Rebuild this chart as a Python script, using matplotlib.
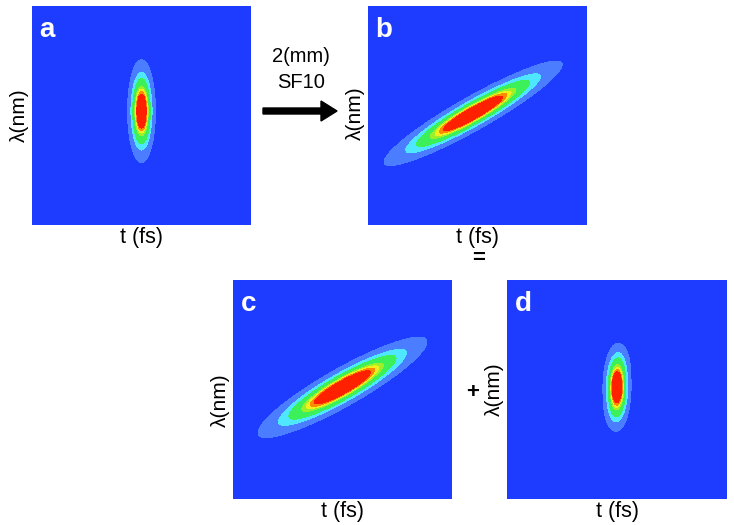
import numpy as np
import matplotlib
matplotlib.use('Agg')
import matplotlib.pyplot as plt
from matplotlib.colors import ListedColormap, BoundaryNorm

plt.rcParams['font.family'] = ['Liberation Sans', 'DejaVu Sans']

# Panel letters and Gaussian blob parameters (axes units 0..1)
panel_names = ['a', 'b', 'c', 'd']
centre_x = [0.50, 0.48, 0.50, 0.50]
centre_y = [0.52, 0.51, 0.51, 0.51]
sigma_long = [0.096, 0.190, 0.180, 0.075]
sigma_short = [0.026, 0.031, 0.035, 0.026]
tilt_deg = [90, 29.5, 29.5, 90]
# panel d has two weak side lobes: (dx, dy, amplitude)
side_lobes_d = [(0.012, 0.11, 0.12), (-0.010, -0.11, 0.12)]

levels = [0, 0.05, 0.18, 0.30, 0.50, 0.58, 0.65, 0.72, 1.5]
colours = ['#1E3CFF', '#4A7DFF', '#4FE6FF', '#3CF05A', '#9CF02A',
           '#F0F01E', '#FF8A00', '#FF2000']
cmap = ListedColormap(colours)
norm = BoundaryNorm(levels, cmap.N)

# axes rectangles in figure fraction
positions = [
    [32 / 734, 300 / 525, 219 / 734, 219 / 525],
    [368 / 734, 300 / 525, 219 / 734, 219 / 525],
    [233 / 734, 26 / 525, 219 / 734, 219 / 525],
    [507 / 734, 26 / 525, 220 / 734, 219 / 525],
]
lambda_y = [0.50, 0.51, 0.45, 0.50]

fig = plt.figure(figsize=(7.34, 5.25), dpi=100)

grid = np.linspace(0, 1, 400)
X, Y = np.meshgrid(grid, grid)


def gauss(X, Y, cx, cy, s_long, s_short, angle):
    th = np.deg2rad(angle)
    u = (X - cx) * np.cos(th) + (Y - cy) * np.sin(th)
    v = -(X - cx) * np.sin(th) + (Y - cy) * np.cos(th)
    return np.exp(-0.5 * ((u / s_long) ** 2 + (v / s_short) ** 2))


for i, name in enumerate(panel_names):
    ax = fig.add_axes(positions[i])
    Z = gauss(X, Y, centre_x[i], centre_y[i], sigma_long[i], sigma_short[i], tilt_deg[i])
    if name == 'd':
        for dx, dy, amp in side_lobes_d:
            Z = Z + amp * gauss(X, Y, centre_x[i] + dx, centre_y[i] + dy, 0.05, 0.026, 90)
    ax.contourf(X, Y, Z, levels=levels, cmap=cmap, norm=norm)
    ax.set_xlim(0, 1)
    ax.set_ylim(0, 1)
    ax.set_xticks([])
    ax.set_yticks([])
    for sp in ax.spines.values():
        sp.set_visible(False)
    ax.text(0.035, 0.86, name, transform=ax.transAxes, color='white',
            fontsize=20, fontweight='bold', ha='left', va='baseline')
    ax.text(0.5, -0.01, 't (fs)', transform=ax.transAxes, fontsize=15.5,
            ha='center', va='top')
    ax.text(-0.015, lambda_y[i], 'λ(nm)', transform=ax.transAxes, fontsize=15,
            ha='right', va='center', rotation=90)

# arrow with the glass label between a and b
fig.text(301 / 734, 1 - 57 / 525, '2(mm)', fontsize=14.5, ha='center', va='center')
fig.text(301 / 734, 1 - 83 / 525, 'SF10', fontsize=14.5, ha='center', va='center')
fig.patches.append(matplotlib.patches.FancyArrow(
    263 / 734, 1 - 111 / 525, 58 / 734, 0, width=6 / 525, head_width=20 / 525,
    head_length=16 / 734, length_includes_head=False, color='black',
    transform=fig.transFigure, figure=fig))

fig.text(479 / 734, 1 - 258 / 525, '=', fontsize=16, fontweight='bold',
         ha='center', va='center')
fig.text(473 / 734, 1 - 392 / 525, '+', fontsize=16, fontweight='bold',
         ha='center', va='center')

fig.savefig('out.png', dpi=100)
